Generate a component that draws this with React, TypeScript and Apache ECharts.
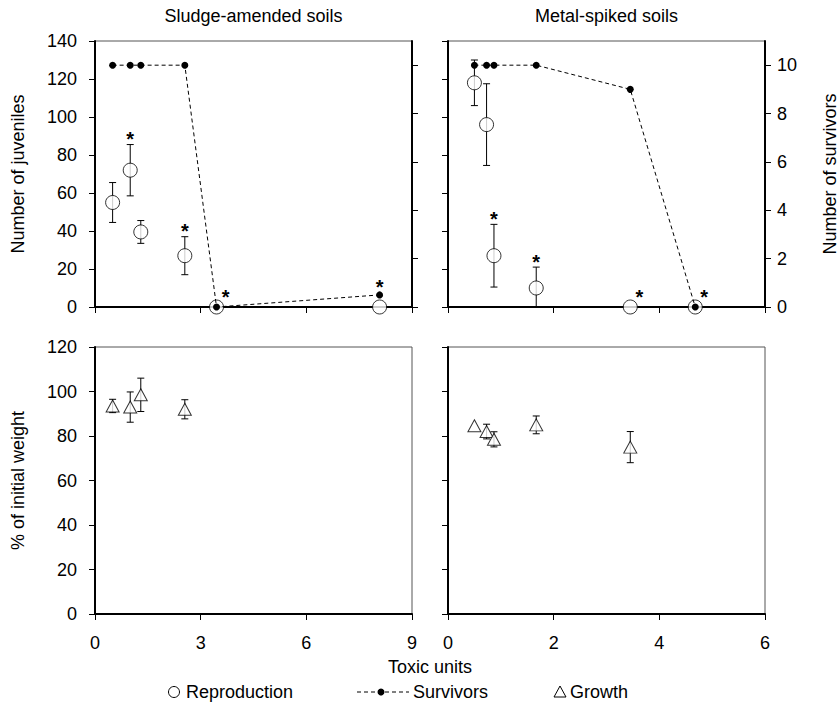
import React, { useEffect, useRef } from "react";
import * as echarts from "echarts";

const FONT = "'Liberation Sans', Arial, sans-serif";

// Sludge-amended soils (toxic units on x)
const sludgeTU = [0.5, 1.0, 1.3, 2.55, 3.45, 8.08];
const sludgeJuveniles = [55, 72, 39.5, 27, 0, 0];
const sludgeJuvenilesSD = [10.5, 13.5, 6, 10, 0, 0];
const sludgeJuvenilesSig = [false, true, false, true, true, true];
const sludgeSurvivors = [10, 10, 10, 10, 0, 0.5];
const sludgeGrowthTU = [0.5, 1.0, 1.3, 2.55];
const sludgeGrowth = [93.5, 93, 98.5, 92];
const sludgeGrowthSD = [3, 6.8, 7.5, 4.3];

// Metal-spiked soils
const metalTU = [0.5, 0.73, 0.87, 1.67, 3.45, 4.68];
const metalJuveniles = [118, 96, 27, 10, 0, 0];
const metalJuvenilesSD = [12, 21.5, 16.5, 11, 0, 0];
const metalJuvenilesSig = [false, false, true, true, true, true];
const metalSurvivors = [10, 10, 10, 10, 9, 0];
const metalGrowthTU = [0.5, 0.73, 0.87, 1.67, 3.45];
const metalGrowth = [84.6, 82, 78.5, 85, 75];
const metalGrowthSD = [0, 3.3, 3.4, 4, 7];

// Axis ranges and ticks
const juvenileMax = 140;
const juvenileStep = 20;
const survivorMax = 11;
const survivorTicks = [0, 2, 4, 6, 8, 10];
const weightMax = 120;
const weightStep = 20;
const sludgeTUMax = 9;
const sludgeTUStep = 3;
const metalTUMax = 6;
const metalTUStep = 2;

const black = "#000";

const zip = (xs: number[], ys: number[]) => xs.map((x, i) => [x, ys[i]]);

function errorBars(xAxisIndex: number, yAxisIndex: number, xs: number[], ys: number[], sds: number[]) {
  return {
    type: "custom",
    xAxisIndex,
    yAxisIndex,
    silent: true,
    z: 1,
    data: xs.map((x, i) => [x, ys[i], sds[i]]),
    renderItem: (_p: any, api: any) => {
      const x = api.value(0);
      const y = api.value(1);
      const e = api.value(2);
      const children: any[] = [];
      if (e > 0) {
        const cap = 3.5;
        const st = { stroke: black, lineWidth: 1 };
        const top = api.coord([x, y + e]);
        const low = y - e;
        const bot = api.coord([x, Math.max(low, 0)]);
        children.push({ type: "line", shape: { x1: top[0], y1: top[1], x2: bot[0], y2: bot[1] }, style: st });
        children.push({ type: "line", shape: { x1: top[0] - cap, y1: top[1], x2: top[0] + cap, y2: top[1] }, style: st });
        if (low >= 0) {
          children.push({ type: "line", shape: { x1: bot[0] - cap, y1: bot[1], x2: bot[0] + cap, y2: bot[1] }, style: st });
        }
      }
      return { type: "group", children };
    },
  };
}

// Significance asterisks: above the error bar, above a survivor dot sitting just over
// a zero mark, or beside the zero mark otherwise
function asterisks(
  xAxisIndex: number,
  yAxisIndex: number,
  xs: number[],
  ys: number[],
  sds: number[],
  sig: boolean[],
  surv: number[]
) {
  const data = xs
    .map((x, i) => (sig[i] ? [x, ys[i], sds[i], surv[i]] : null))
    .filter((d) => d !== null);
  return {
    type: "custom",
    xAxisIndex,
    yAxisIndex,
    silent: true,
    z: 5,
    data,
    renderItem: (_p: any, api: any) => {
      const x = api.value(0);
      const y = api.value(1);
      const e = api.value(2);
      const s = api.value(3);
      let px: number;
      let py: number;
      if (y > 0) {
        const c = api.coord([x, y + e]);
        px = c[0];
        py = c[1] - 9.5;
      } else if (s > 0 && s < 1) {
        const c = api.coord([x, (s * juvenileMax) / survivorMax]);
        px = c[0];
        py = c[1] - 12;
      } else {
        const c = api.coord([x, 0]);
        px = c[0] + 9;
        py = c[1] - 14;
      }
      return {
        type: "text",
        x: px,
        y: py + 4,
        style: {
          text: "*",
          fontSize: 20,
          fontWeight: "bold",
          fontFamily: FONT,
          fill: black,
          align: "center",
          verticalAlign: "middle",
        },
      };
    },
  };
}

const axisLine = { show: true, onZero: false, lineStyle: { color: black, width: 2 } };
const axisTick = { show: true, inside: false, length: 6, lineStyle: { color: black, width: 1 } };
const labelStyle = { color: black, fontSize: 18, fontFamily: FONT };
const nameStyle = { color: black, fontSize: 18, fontFamily: FONT };

function xAxis(gridIndex: number, max: number, step: number, showLabel: boolean) {
  return {
    type: "value",
    gridIndex,
    min: 0,
    max,
    interval: step,
    axisLine,
    axisTick,
    splitLine: { show: false },
    axisLabel: { show: showLabel, ...labelStyle, margin: 20 },
  };
}

function leftAxis(gridIndex: number, max: number, step: number, showLabel: boolean, name?: string) {
  return {
    type: "value",
    gridIndex,
    position: "left",
    min: 0,
    max,
    interval: step,
    axisLine,
    axisTick,
    splitLine: { show: false },
    axisLabel: { show: showLabel, ...labelStyle, margin: 18 },
    name: name || "",
    nameLocation: "middle",
    nameRotate: 90,
    nameGap: 68,
    nameTextStyle: nameStyle,
  };
}

function survivorAxis(gridIndex: number, showLabel: boolean, name?: string) {
  return {
    type: "value",
    gridIndex,
    position: "right",
    min: 0,
    max: survivorMax,
    interval: 2,
    axisLine,
    axisTick: { ...axisTick, customValues: survivorTicks },
    splitLine: { show: false },
    axisLabel: {
      show: showLabel,
      ...labelStyle,
      margin: 12,
      customValues: survivorTicks,
      formatter: (v: number) => (v > 10 ? "" : String(v)),
    },
    name: name || "",
    nameLocation: "middle",
    nameRotate: 90,
    nameGap: 56,
    nameTextStyle: nameStyle,
  };
}

const gridBase = { show: true, borderColor: "#555", borderWidth: 1, backgroundColor: "transparent" };

function reproSeries(xAxisIndex: number, yAxisIndex: number, xs: number[], ys: number[]) {
  return {
    type: "scatter",
    xAxisIndex,
    yAxisIndex,
    z: 2,
    symbol: "circle",
    symbolSize: 14,
    itemStyle: { color: "#fff", borderColor: black, borderWidth: 1 },
    data: zip(xs, ys),
  };
}

function survivorSeries(xAxisIndex: number, yAxisIndex: number, xs: number[], ys: number[]) {
  return {
    type: "line",
    xAxisIndex,
    yAxisIndex,
    z: 3,
    symbol: "circle",
    symbolSize: 7,
    showSymbol: true,
    itemStyle: { color: black, borderWidth: 0 },
    lineStyle: { color: black, width: 1, type: [4, 3] },
    data: zip(xs, ys),
  };
}

function growthSeries(xAxisIndex: number, yAxisIndex: number, xs: number[], ys: number[]) {
  return {
    type: "scatter",
    xAxisIndex,
    yAxisIndex,
    z: 2,
    symbol: "triangle",
    symbolSize: [13, 12],
    itemStyle: { color: "#fff", borderColor: black, borderWidth: 1 },
    data: zip(xs, ys),
  };
}

const textEl = (text: string, x: number, y: number, align: string, extra: any = {}) => ({
  type: "text",
  x,
  y,
  style: { text, fontSize: 18, fontFamily: FONT, fill: black, align, verticalAlign: "middle", ...extra },
});

const legendY = 692;

const option: any = {
  animation: false,
  backgroundColor: "#fff",
  grid: [
    { ...gridBase, left: 95, top: 41, width: 317, height: 266 },
    { ...gridBase, left: 448, top: 41, width: 317, height: 266 },
    { ...gridBase, left: 95, top: 347, width: 317, height: 267 },
    { ...gridBase, left: 448, top: 347, width: 317, height: 267 },
  ],
  xAxis: [
    xAxis(0, sludgeTUMax, sludgeTUStep, false),
    xAxis(1, metalTUMax, metalTUStep, false),
    xAxis(2, sludgeTUMax, sludgeTUStep, true),
    xAxis(3, metalTUMax, metalTUStep, true),
  ],
  yAxis: [
    leftAxis(0, juvenileMax, juvenileStep, true, "Number of juveniles"),
    survivorAxis(0, false),
    leftAxis(1, juvenileMax, juvenileStep, false),
    survivorAxis(1, true, "Number of survivors"),
    leftAxis(2, weightMax, weightStep, true, "% of initial weight"),
    leftAxis(3, weightMax, weightStep, false),
  ],
  series: [
    errorBars(0, 0, sludgeTU, sludgeJuveniles, sludgeJuvenilesSD),
    reproSeries(0, 0, sludgeTU, sludgeJuveniles),
    survivorSeries(0, 1, sludgeTU, sludgeSurvivors),
    asterisks(0, 0, sludgeTU, sludgeJuveniles, sludgeJuvenilesSD, sludgeJuvenilesSig, sludgeSurvivors),

    errorBars(1, 2, metalTU, metalJuveniles, metalJuvenilesSD),
    reproSeries(1, 2, metalTU, metalJuveniles),
    survivorSeries(1, 3, metalTU, metalSurvivors),
    asterisks(1, 2, metalTU, metalJuveniles, metalJuvenilesSD, metalJuvenilesSig, metalSurvivors),

    errorBars(2, 4, sludgeGrowthTU, sludgeGrowth, sludgeGrowthSD),
    growthSeries(2, 4, sludgeGrowthTU, sludgeGrowth),

    errorBars(3, 5, metalGrowthTU, metalGrowth, metalGrowthSD),
    growthSeries(3, 5, metalGrowthTU, metalGrowth),
  ],
  graphic: [
    textEl("Sludge-amended soils", 253.5, 16, "center"),
    textEl("Metal-spiked soils", 606.5, 16, "center"),
    textEl("Toxic units", 430, 667, "center"),
    // legend
    { type: "circle", shape: { cx: 174, cy: legendY, r: 5.5 }, style: { fill: "#fff", stroke: black, lineWidth: 1 } },
    textEl("Reproduction", 186, legendY, "left"),
    {
      type: "line",
      shape: { x1: 357, y1: legendY, x2: 409, y2: legendY },
      style: { stroke: black, lineWidth: 1, lineDash: [4, 3] },
    },
    { type: "circle", shape: { cx: 381, cy: legendY, r: 3.5 }, style: { fill: black } },
    textEl("Survivors", 413, legendY, "left"),
    {
      type: "polygon",
      shape: { points: [[554, legendY + 5], [566, legendY + 5], [560, legendY - 6]] },
      style: { fill: "#fff", stroke: black, lineWidth: 1 },
    },
    textEl("Growth", 570, legendY, "left"),
  ],
};

export default function App() {
  const ref = useRef<HTMLDivElement>(null);
  useEffect(() => {
    document.body.style.margin = "0";
    const chart = echarts.init(ref.current!, null, { renderer: "svg" });
    chart.setOption(option);
    return () => chart.dispose();
  }, []);
  return <div ref={ref} style={{ width: 840, height: 722 }} />;
}
